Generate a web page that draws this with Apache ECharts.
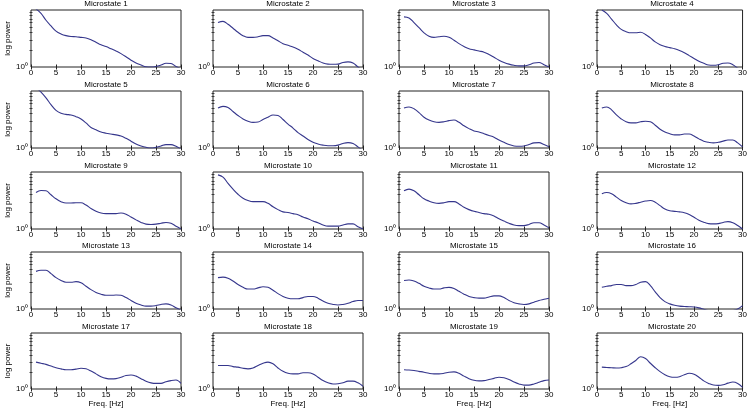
<!DOCTYPE html>
<html><head><meta charset="utf-8">
<script src="https://cdn.jsdelivr.net/npm/echarts@6/dist/echarts.min.js"></script>
<style>html,body{margin:0;padding:0;background:#fff}#c{width:750px;height:409px}</style>
</head><body><div id="c"></div>
<script>
// Frequencies (Hz) at which the spectra are read
const freqs = [1,2,3,4,5,6,7,8,9,10,11,12,13,14,15,16,17,18,19,20,21,22,23,24,25,26,27,28,29,30];
const xTickStep = 5;
const yTickLabel = '10\u2070';
const minorPowers = [2,3,4,5,6,7,8,9];
const titles = ['Microstate 1','Microstate 2','Microstate 3','Microstate 4','Microstate 5','Microstate 6','Microstate 7','Microstate 8','Microstate 9','Microstate 10','Microstate 11','Microstate 12','Microstate 13','Microstate 14','Microstate 15','Microstate 16','Microstate 17','Microstate 18','Microstate 19','Microstate 20'];

// log10 power per microstate
const ms01 = [1.02,0.94,0.82,0.72,0.63,0.58,0.55,0.535,0.53,0.52,0.51,0.48,0.435,0.39,0.36,0.32,0.28,0.235,0.18,0.12,0.07,0.035,0.005,0.0,0.01,0.035,0.065,0.06,0.01,-0.03];
const ms02 = [0.78,0.80,0.75,0.68,0.61,0.55,0.52,0.52,0.53,0.55,0.55,0.51,0.46,0.41,0.38,0.35,0.31,0.26,0.21,0.15,0.11,0.07,0.05,0.047,0.05,0.08,0.09,0.07,0.0,-0.06];
const ms03 = [0.88,0.86,0.78,0.69,0.60,0.54,0.52,0.53,0.54,0.52,0.47,0.41,0.36,0.32,0.30,0.28,0.26,0.22,0.17,0.12,0.08,0.05,0.03,0.02,0.02,0.04,0.07,0.08,0.04,0.0];
const ms04 = [1.0,0.94,0.84,0.74,0.66,0.62,0.60,0.60,0.61,0.57,0.51,0.44,0.39,0.36,0.34,0.32,0.29,0.25,0.20,0.15,0.10,0.065,0.035,0.03,0.04,0.065,0.07,0.04,-0.02,-0.08];
const ms05 = [1.06,0.98,0.88,0.76,0.66,0.61,0.59,0.58,0.55,0.51,0.44,0.36,0.32,0.28,0.26,0.245,0.23,0.21,0.17,0.12,0.07,0.036,0.012,0.0,0.012,0.036,0.06,0.06,0.03,-0.02];
const ms06 = [0.70,0.73,0.71,0.64,0.57,0.51,0.47,0.45,0.455,0.50,0.54,0.58,0.57,0.50,0.42,0.35,0.27,0.21,0.15,0.10,0.07,0.05,0.04,0.04,0.05,0.08,0.095,0.08,0.02,-0.05];
const ms07 = [0.70,0.72,0.69,0.62,0.54,0.49,0.46,0.45,0.46,0.48,0.49,0.45,0.39,0.34,0.30,0.28,0.25,0.22,0.19,0.14,0.10,0.06,0.036,0.03,0.036,0.06,0.09,0.095,0.06,0.02];
const ms08 = [0.70,0.72,0.67,0.58,0.51,0.46,0.44,0.44,0.46,0.47,0.46,0.40,0.33,0.28,0.25,0.23,0.23,0.245,0.245,0.21,0.16,0.12,0.10,0.09,0.10,0.12,0.14,0.14,0.09,0.02];
const ms09 = [0.64,0.675,0.67,0.60,0.53,0.48,0.455,0.455,0.46,0.46,0.42,0.36,0.31,0.28,0.27,0.27,0.27,0.28,0.26,0.21,0.16,0.115,0.085,0.08,0.085,0.10,0.115,0.10,0.05,0.0];
const ms10 = [0.95,0.91,0.80,0.70,0.61,0.54,0.50,0.48,0.48,0.48,0.45,0.39,0.34,0.30,0.29,0.27,0.25,0.21,0.18,0.14,0.11,0.07,0.05,0.05,0.05,0.07,0.09,0.09,0.04,0.0];
const ms11 = [0.67,0.70,0.67,0.60,0.53,0.49,0.46,0.45,0.46,0.48,0.48,0.44,0.38,0.34,0.31,0.29,0.27,0.26,0.23,0.18,0.14,0.10,0.07,0.06,0.06,0.08,0.11,0.11,0.07,0.02];
const ms12 = [0.62,0.64,0.62,0.56,0.50,0.46,0.44,0.45,0.47,0.49,0.50,0.47,0.41,0.35,0.32,0.31,0.30,0.285,0.255,0.205,0.155,0.12,0.095,0.09,0.095,0.115,0.13,0.11,0.06,0.0];
const ms13 = [0.66,0.68,0.68,0.62,0.55,0.50,0.47,0.47,0.48,0.46,0.40,0.34,0.29,0.26,0.24,0.24,0.245,0.24,0.20,0.15,0.10,0.07,0.05,0.05,0.06,0.08,0.09,0.07,0.02,-0.02];
const ms14 = [0.55,0.56,0.54,0.49,0.43,0.38,0.35,0.35,0.37,0.39,0.38,0.33,0.27,0.22,0.19,0.18,0.18,0.20,0.22,0.22,0.19,0.14,0.10,0.08,0.07,0.08,0.10,0.13,0.15,0.15];
const ms15 = [0.50,0.51,0.49,0.45,0.40,0.37,0.35,0.35,0.37,0.38,0.36,0.31,0.26,0.22,0.20,0.19,0.19,0.21,0.23,0.23,0.20,0.15,0.11,0.09,0.08,0.09,0.12,0.15,0.17,0.19];
const ms16 = [0.38,0.40,0.41,0.43,0.43,0.41,0.41,0.43,0.47,0.48,0.41,0.30,0.20,0.13,0.09,0.065,0.05,0.045,0.04,0.035,0.02,-0.005,-0.03,-0.05,-0.06,-0.06,-0.05,-0.03,0.0,0.06];
const ms17 = [0.48,0.46,0.44,0.41,0.38,0.36,0.345,0.345,0.355,0.37,0.36,0.32,0.27,0.22,0.19,0.18,0.185,0.21,0.24,0.25,0.23,0.185,0.14,0.11,0.10,0.10,0.13,0.15,0.16,0.10];
const ms18 = [0.42,0.42,0.42,0.40,0.39,0.37,0.36,0.375,0.42,0.46,0.48,0.45,0.375,0.315,0.28,0.27,0.27,0.29,0.29,0.27,0.21,0.15,0.11,0.09,0.095,0.11,0.14,0.14,0.11,0.05];
const ms19 = [0.345,0.34,0.33,0.315,0.30,0.28,0.27,0.27,0.28,0.30,0.305,0.28,0.23,0.185,0.155,0.145,0.15,0.17,0.19,0.21,0.20,0.17,0.125,0.09,0.07,0.07,0.09,0.12,0.15,0.16];
const ms20 = [0.39,0.385,0.38,0.375,0.38,0.40,0.45,0.51,0.575,0.545,0.46,0.38,0.31,0.255,0.22,0.21,0.22,0.255,0.28,0.265,0.21,0.145,0.10,0.07,0.065,0.075,0.105,0.125,0.10,0.03];
const spectra = [ms01,ms02,ms03,ms04,ms05,ms06,ms07,ms08,ms09,ms10,ms11,ms12,ms13,ms14,ms15,ms16,ms17,ms18,ms19,ms20];

// layout
const colLeft = [31, 213, 399, 597];
const rowTop = [10, 91, 172, 252, 333];
const W = 150, H = 57;
const FONT = "'Liberation Sans', Arial, Helvetica, sans-serif";
const INK = '#222';
const LINE = '#35368c';

const chart = echarts.init(document.getElementById('c'), null, {renderer: 'canvas'});
const grid = [], xAxis = [], yAxis = [], series = [], title = [];
const minorTicks = minorPowers.map(p => Math.log10(p));

spectra.forEach((vals, i) => {
  const r = Math.floor(i / 4), c = i % 4;
  grid.push({left: colLeft[c], top: rowTop[r], width: W, height: H, show: true,
    borderColor: INK, borderWidth: 1, backgroundColor: 'transparent'});
  title.push({text: titles[i], left: colLeft[c] + W / 2, top: rowTop[r] - 10, textAlign: 'center',
    padding: 0, textStyle: {fontSize: 8, fontWeight: 'normal', color: '#000', fontFamily: FONT}});
  const xBase = {gridIndex: i, type: 'value', min: 0, max: 30, interval: xTickStep,
    axisLine: {show: false}, splitLine: {show: false},
    axisTick: {inside: true, length: 2.5, lineStyle: {color: INK, width: 1}}};
  xAxis.push(Object.assign({}, xBase, {position: 'bottom',
    axisLabel: {fontSize: 8, margin: 2, color: '#000', fontFamily: FONT},
    name: r === 4 ? 'Freq. [Hz]' : '', nameLocation: 'middle', nameGap: 11,
    nameTextStyle: {fontSize: 8, color: '#000', fontFamily: FONT}}));
  xAxis.push(Object.assign({}, xBase, {position: 'top', axisLabel: {show: false}}));
  const yBase = {gridIndex: i, type: 'value', min: 0, max: 1, interval: 1,
    axisLine: {show: false}, splitLine: {show: false},
    axisTick: {inside: true, length: 1.5, customValues: minorTicks, lineStyle: {color: INK, width: 0.8}}};
  yAxis.push(Object.assign({}, yBase, {position: 'left',
    axisLabel: {customValues: [0], formatter: v => (v === 0 ? yTickLabel : ''), fontSize: 8, margin: 3,
      color: '#000', fontFamily: FONT},
    name: c === 0 ? 'log power' : '', nameLocation: 'middle', nameGap: 19, nameRotate: 90,
    nameTextStyle: {fontSize: 8, color: '#000', fontFamily: FONT}}));
  yAxis.push(Object.assign({}, yBase, {position: 'right', axisLabel: {show: false}}));
  series.push({type: 'line', xAxisIndex: 2 * i, yAxisIndex: 2 * i, showSymbol: false, symbol: 'none',
    smooth: 0.4, clip: true, silent: true,
    lineStyle: {color: LINE, width: 1.1},
    data: freqs.map((f, k) => [f, vals[k]])});
});

chart.setOption({animation: false, backgroundColor: '#fff', title, grid, xAxis, yAxis, series});
</script></body></html>
